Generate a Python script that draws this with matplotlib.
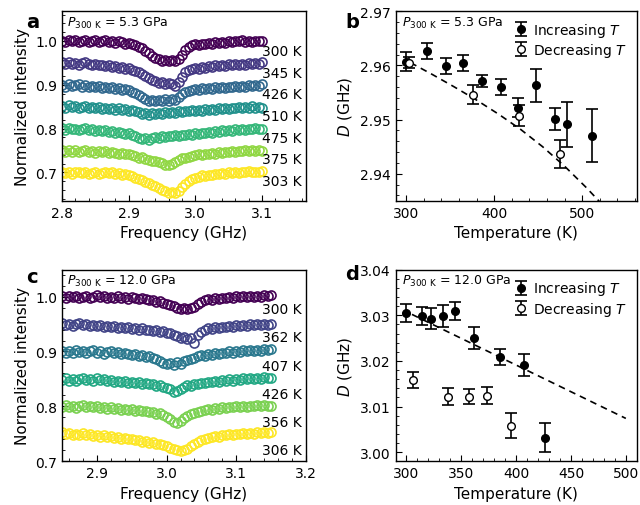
import numpy as np
import matplotlib
matplotlib.use("Agg")
import matplotlib.pyplot as plt
from matplotlib.ticker import MultipleLocator

plt.rcParams["font.family"] = "DejaVu Sans"
plt.rcParams["font.size"] = 10
plt.rcParams["mathtext.fontset"] = "dejavusans"

# ---- panel a: spectra at P(300 K) = 5.3 GPa ----
freq_a = np.linspace(2.80, 3.10, 61)
temps_a = ["300 K", "345 K", "426 K", "510 K", "475 K", "375 K", "303 K"]
offsets_a = [0.0, 0.05, 0.10, 0.15, 0.20, 0.25, 0.30]
spec_a_300 = [1.001, 0.998, 1.003, 0.999, 1.002, 0.997, 1.001, 1.003, 0.998, 1.000, 1.002, 0.997, 0.999, 1.002, 0.998, 1.000,
              0.996, 0.999, 0.997, 0.994, 0.996, 0.992, 0.990, 0.987, 0.983, 0.978, 0.972, 0.966, 0.961, 0.958, 0.955, 0.957,
              0.954, 0.956, 0.955, 0.959, 0.968, 0.980, 0.986, 0.990, 0.992, 0.990, 0.994, 0.993, 0.996, 0.994, 0.997, 0.995,
              0.998, 0.996, 1.000, 0.997, 1.001, 0.999, 1.002, 0.998, 1.000, 0.997, 1.001, 0.999, 1.000]
spec_a_345 = [1.001, 0.997, 1.002, 0.998, 1.000, 0.996, 0.999, 1.001, 0.997, 0.995, 0.998, 0.994, 0.996, 0.993, 0.995, 0.991,
              0.993, 0.989, 0.991, 0.987, 0.988, 0.984, 0.982, 0.978, 0.975, 0.970, 0.966, 0.961, 0.958, 0.954, 0.956, 0.952,
              0.955, 0.951, 0.947, 0.956, 0.968, 0.978, 0.984, 0.987, 0.989, 0.987, 0.991, 0.989, 0.992, 0.990, 0.994, 0.992,
              0.995, 0.993, 0.997, 0.994, 0.997, 0.995, 0.998, 0.996, 0.999, 0.997, 1.000, 0.998, 1.001]
spec_a_426 = [1.000, 0.996, 1.001, 0.997, 0.999, 1.002, 0.996, 0.999, 0.995, 0.998, 0.994, 0.997, 0.993, 0.996, 0.992, 0.994,
              0.991, 0.993, 0.989, 0.991, 0.987, 0.984, 0.981, 0.977, 0.972, 0.967, 0.963, 0.966, 0.962, 0.965, 0.963, 0.967,
              0.964, 0.968, 0.966, 0.972, 0.978, 0.983, 0.986, 0.988, 0.990, 0.988, 0.992, 0.990, 0.993, 0.991, 0.994, 0.992,
              0.995, 0.993, 0.996, 0.994, 0.997, 0.995, 0.998, 0.996, 0.999, 0.997, 1.000, 0.998, 1.001]
spec_a_510 = [1.002, 0.998, 1.003, 0.999, 1.001, 0.997, 1.000, 1.002, 0.997, 0.999, 0.996, 0.999, 0.995, 0.998, 0.994, 0.997,
              0.993, 0.996, 0.992, 0.994, 0.991, 0.993, 0.989, 0.987, 0.984, 0.986, 0.982, 0.985, 0.983, 0.986, 0.984, 0.987,
              0.985, 0.988, 0.986, 0.989, 0.988, 0.991, 0.989, 0.992, 0.990, 0.993, 0.991, 0.994, 0.992, 0.995, 0.993, 0.996,
              0.994, 0.997, 0.995, 0.998, 0.996, 0.999, 0.997, 1.000, 0.998, 1.001, 0.997, 1.000, 0.998]
spec_a_475 = [1.001, 0.997, 1.002, 0.998, 1.000, 0.996, 0.999, 1.001, 0.996, 0.998, 0.995, 0.997, 0.994, 0.996, 0.993, 0.995,
              0.991, 0.993, 0.990, 0.987, 0.989, 0.985, 0.982, 0.979, 0.976, 0.978, 0.975, 0.978, 0.980, 0.978, 0.982, 0.980,
              0.983, 0.982, 0.985, 0.983, 0.986, 0.985, 0.988, 0.986, 0.990, 0.988, 0.991, 0.990, 0.993, 0.991, 0.994, 0.993,
              0.996, 0.994, 0.997, 0.995, 0.998, 0.996, 0.999, 0.997, 1.000, 0.998, 1.001, 0.998, 1.000]
spec_a_375 = [1.000, 0.996, 1.001, 0.997, 1.000, 0.996, 0.999, 1.001, 0.997, 0.999, 0.995, 0.998, 0.996, 0.998, 0.994, 0.997,
              0.995, 0.993, 0.995, 0.991, 0.993, 0.989, 0.987, 0.984, 0.985, 0.981, 0.979, 0.976, 0.977, 0.973, 0.971, 0.968,
              0.966, 0.969, 0.974, 0.978, 0.982, 0.984, 0.986, 0.988, 0.989, 0.991, 0.990, 0.993, 0.992, 0.994, 0.993, 0.996,
              0.995, 0.997, 0.996, 0.998, 0.997, 0.999, 0.998, 1.000, 0.998, 1.001, 0.999, 1.001, 0.999]
spec_a_303 = [1.002, 0.998, 1.001, 0.997, 1.000, 1.002, 0.998, 1.000, 0.996, 0.999, 1.001, 0.997, 0.999, 1.002, 0.998, 1.000,
              0.997, 0.999, 0.995, 0.997, 0.993, 0.991, 0.988, 0.985, 0.983, 0.979, 0.976, 0.972, 0.968, 0.964, 0.960, 0.957,
              0.954, 0.956, 0.953, 0.957, 0.966, 0.974, 0.981, 0.985, 0.988, 0.990, 0.993, 0.992, 0.995, 0.994, 0.997, 0.996,
              0.998, 0.997, 1.000, 0.998, 1.001, 0.999, 1.002, 1.000, 1.003, 1.000, 1.002, 1.000, 1.003]
spectra_a = [spec_a_300, spec_a_345, spec_a_426, spec_a_510, spec_a_475, spec_a_375, spec_a_303]

# ---- panel c: spectra at P(300 K) = 12.0 GPa ----
freq_c = np.linspace(2.85, 3.15, 61)
temps_c = ["300 K", "362 K", "407 K", "426 K", "356 K", "306 K"]
offsets_c = [0.0, 0.05, 0.10, 0.15, 0.20, 0.25]
spec_c_300 = [1.001, 0.998, 1.002, 0.999, 1.001, 0.997, 1.000, 1.002, 0.998, 1.000, 1.003, 0.999, 1.001, 0.997, 1.000, 0.998,
              1.001, 0.997, 0.999, 0.996, 0.999, 0.997, 0.995, 0.998, 0.995, 0.993, 0.994, 0.991, 0.992, 0.989, 0.987, 0.985,
              0.983, 0.980, 0.978, 0.979, 0.977, 0.980, 0.981, 0.986, 0.990, 0.993, 0.995, 0.994, 0.997, 0.996, 0.998, 0.997,
              1.000, 0.998, 1.001, 0.999, 1.002, 1.000, 1.001, 0.999, 1.002, 1.000, 1.003, 1.001, 1.003]
spec_c_362 = [1.002, 0.998, 1.001, 0.997, 1.000, 1.002, 0.998, 1.000, 0.997, 0.999, 0.996, 0.998, 0.995, 0.997, 0.994, 0.996,
              0.993, 0.995, 0.992, 0.994, 0.991, 0.993, 0.990, 0.992, 0.989, 0.990, 0.987, 0.989, 0.986, 0.987, 0.984, 0.983,
              0.980, 0.978, 0.975, 0.976, 0.973, 0.975, 0.966, 0.980, 0.986, 0.990, 0.992, 0.991, 0.994, 0.993, 0.995, 0.994,
              0.997, 0.995, 0.998, 0.996, 0.999, 0.997, 1.000, 0.998, 1.000, 0.999, 1.001, 0.999, 1.001]
spec_c_407 = [1.000, 0.997, 1.001, 0.998, 1.002, 0.999, 1.001, 0.997, 1.000, 1.002, 0.998, 1.000, 0.996, 0.999, 1.001, 0.997,
              0.999, 0.995, 0.998, 0.996, 0.993, 0.995, 0.992, 0.994, 0.990, 0.991, 0.988, 0.986, 0.982, 0.979, 0.977, 0.979,
              0.976, 0.980, 0.978, 0.982, 0.984, 0.987, 0.989, 0.991, 0.993, 0.992, 0.995, 0.994, 0.997, 0.995, 0.998, 0.997,
              1.000, 0.998, 1.001, 0.999, 1.002, 1.000, 1.003, 1.001, 1.003, 1.001, 1.004, 1.002, 1.004]
spec_c_426 = [0.998, 1.001, 0.997, 1.000, 0.996, 0.999, 1.002, 0.998, 1.000, 0.997, 1.001, 0.998, 1.000, 0.996, 0.998, 0.995,
              0.997, 0.994, 0.996, 0.993, 0.995, 0.992, 0.994, 0.991, 0.993, 0.990, 0.991, 0.988, 0.989, 0.986, 0.984, 0.981,
              0.976, 0.978, 0.982, 0.986, 0.989, 0.988, 0.991, 0.990, 0.993, 0.992, 0.995, 0.994, 0.996, 0.995, 0.998, 0.996,
              0.999, 0.997, 1.000, 0.998, 1.001, 0.999, 1.002, 1.000, 1.002, 1.000, 1.003, 1.001, 1.002]
spec_c_356 = [0.999, 1.002, 0.998, 1.001, 0.997, 1.000, 1.003, 0.999, 1.001, 0.998, 1.000, 0.997, 0.999, 0.996, 0.998, 0.995,
              0.997, 0.994, 0.996, 0.993, 0.995, 0.992, 0.994, 0.991, 0.992, 0.989, 0.990, 0.987, 0.988, 0.984, 0.981, 0.977,
              0.972, 0.970, 0.973, 0.978, 0.983, 0.986, 0.988, 0.990, 0.992, 0.993, 0.995, 0.994, 0.997, 0.996, 0.998, 0.997,
              0.999, 0.998, 1.000, 0.999, 1.001, 0.999, 1.001, 1.000, 1.002, 1.000, 1.002, 1.000, 1.001]
spec_c_306 = [1.003, 0.999, 1.001, 0.997, 1.000, 0.998, 1.001, 0.997, 0.999, 0.996, 0.998, 0.995, 0.997, 0.994, 0.996, 0.993,
              0.994, 0.991, 0.993, 0.990, 0.991, 0.988, 0.989, 0.986, 0.987, 0.984, 0.985, 0.982, 0.981, 0.979, 0.977, 0.975,
              0.973, 0.970, 0.968, 0.971, 0.973, 0.978, 0.982, 0.985, 0.988, 0.990, 0.993, 0.994, 0.996, 0.995, 0.998, 0.997,
              0.999, 0.998, 1.000, 0.999, 1.001, 1.000, 1.002, 1.000, 1.003, 1.001, 1.003, 1.001, 1.003]
spectra_c = [spec_c_300, spec_c_362, spec_c_407, spec_c_426, spec_c_356, spec_c_306]

# ---- panel b: D vs T at 5.3 GPa ----
T_inc_b = [300, 324, 345, 365, 386, 408, 427, 448, 469, 483, 511]
D_inc_b = [2.9607, 2.9627, 2.9599, 2.9604, 2.9571, 2.9560, 2.9522, 2.9563, 2.9501, 2.9491, 2.9470]
E_inc_b = [0.0018, 0.0015, 0.0015, 0.0015, 0.0011, 0.0015, 0.0018, 0.0030, 0.0021, 0.0042, 0.0049]
T_dec_b = [303, 376, 428, 475]
D_dec_b = [2.9605, 2.9546, 2.9507, 2.9437]
E_dec_b = [0.0010, 0.0017, 0.0019, 0.0026]
T_fit_b = [305, 330, 355, 380, 405, 430, 455, 480, 505, 520]
D_fit_b = [2.9605, 2.9583, 2.9560, 2.9536, 2.9510, 2.9482, 2.9450, 2.9414, 2.9374, 2.9348]

# ---- panel d: D vs T at 12.0 GPa ----
T_inc_d = [300, 314, 322, 333, 344, 362, 385, 407, 426]
D_inc_d = [3.0305, 3.0299, 3.0293, 3.0299, 3.0309, 3.0250, 3.0209, 3.0191, 3.0032]
E_inc_d = [0.0019, 0.0020, 0.0024, 0.0024, 0.0020, 0.0024, 0.0018, 0.0024, 0.0032]
T_dec_d = [306, 338, 357, 373, 395]
D_dec_d = [3.0158, 3.0122, 3.0122, 3.0124, 3.0058]
E_dec_d = [0.0018, 0.0018, 0.0016, 0.0018, 0.0027]
T_fit_d = [305, 500]
D_fit_d = [3.0302, 3.0074]


def style_axis(ax, xmaj, xmin, ymaj, ymin):
    ax.xaxis.set_major_locator(MultipleLocator(xmaj))
    ax.xaxis.set_minor_locator(MultipleLocator(xmin))
    ax.yaxis.set_major_locator(MultipleLocator(ymaj))
    ax.yaxis.set_minor_locator(MultipleLocator(ymin))
    ax.tick_params(which="both", direction="in", labelsize=10)
    ax.tick_params(which="major", length=4)
    ax.tick_params(which="minor", length=2)
    for s in ax.spines.values():
        s.set_linewidth(1.0)


def plot_spectra(ax, freq, spectra, offsets, temps, label_step):
    colors = plt.cm.viridis(np.linspace(0, 1, len(spectra)))
    for i, (spec, off) in enumerate(zip(spectra, offsets)):
        ax.plot(freq, np.array(spec) - off, "o", mfc="none", mec=colors[i], ms=6.5, mew=1.2)
        ax.text(0.984, 1.0 - 0.023 - label_step * i, temps[i], transform=ax.get_yaxis_transform(),
                ha="right", va="center", fontsize=10)
    ax.set_xlabel("Frequency (GHz)", fontsize=11)
    ax.set_ylabel("Normalized intensity", fontsize=11)


def plot_D(ax, T_inc, D_inc, E_inc, T_dec, D_dec, E_dec, T_fit, D_fit):
    ax.plot(T_fit, D_fit, "k--", lw=1.2, dashes=(4, 3))
    kw = dict(color="k", capsize=4, elinewidth=1.2, capthick=1.2, ms=5.5, ls="none")
    ax.errorbar(T_inc, D_inc, E_inc, fmt="o", mfc="k", mec="k", label=r"Increasing $T$", **kw)
    ax.errorbar(T_dec, D_dec, E_dec, fmt="o", mfc="white", mec="k", label=r"Decreasing $T$", **kw)
    ax.set_xlabel("Temperature (K)", fontsize=11)
    ax.set_ylabel(r"$D$ (GHz)", fontsize=11)
    ax.legend(loc="upper right", frameon=False, fontsize=10, handlelength=1.0, handletextpad=0.4,
              labelspacing=0.15, borderaxespad=0.3)


fig = plt.figure(figsize=(6.4, 5.06), dpi=100)
ax_a = fig.add_axes([0.097, 0.601, 0.381, 0.375])
ax_b = fig.add_axes([0.618, 0.601, 0.377, 0.375])
ax_c = fig.add_axes([0.097, 0.0864, 0.381, 0.3786])
ax_d = fig.add_axes([0.618, 0.0864, 0.377, 0.3786])

plot_spectra(ax_a, freq_a, spectra_a, offsets_a, temps_a, 0.0494)
ax_a.set_xlim(2.8, 3.166)
ax_a.set_ylim(0.635, 1.068)
style_axis(ax_a, 0.1, 0.02, 0.1, 0.02)
ax_a.text(0.02, 0.923, r"$P_{300\ \mathrm{K}}$ = 5.3 GPa", transform=ax_a.transAxes, fontsize=9, va="baseline")

plot_D(ax_b, T_inc_b, D_inc_b, E_inc_b, T_dec_b, D_dec_b, E_dec_b, T_fit_b, D_fit_b)
ax_b.set_xlim(288, 562)
ax_b.set_ylim(2.935, 2.97)
style_axis(ax_b, 100, 20, 0.01, 0.002)
ax_b.text(0.027, 0.923, r"$P_{300\ \mathrm{K}}$ = 5.3 GPa", transform=ax_b.transAxes, fontsize=9, va="baseline")

plot_spectra(ax_c, freq_c, spectra_c, offsets_c, temps_c, 0.0513)
ax_c.set_xlim(2.85, 3.2)
ax_c.set_ylim(0.7, 1.049)
style_axis(ax_c, 0.1, 0.02, 0.1, 0.02)
ax_c.text(0.02, 0.925, r"$P_{300\ \mathrm{K}}$ = 12.0 GPa", transform=ax_c.transAxes, fontsize=9, va="baseline")

plot_D(ax_d, T_inc_d, D_inc_d, E_inc_d, T_dec_d, D_dec_d, E_dec_d, T_fit_d, D_fit_d)
ax_d.set_xlim(290, 510)
ax_d.set_ylim(2.998, 3.04)
style_axis(ax_d, 50, 10, 0.01, 0.002)
ax_d.text(0.027, 0.925, r"$P_{300\ \mathrm{K}}$ = 12.0 GPa", transform=ax_d.transAxes, fontsize=9, va="baseline")

for letter, x, y in [("a", 0.041, 0.945), ("b", 0.539, 0.945), ("c", 0.041, 0.441), ("d", 0.539, 0.447)]:
    fig.text(x, y, letter, fontsize=14, fontweight="bold", va="baseline")

fig.savefig("out.png", dpi=100)
